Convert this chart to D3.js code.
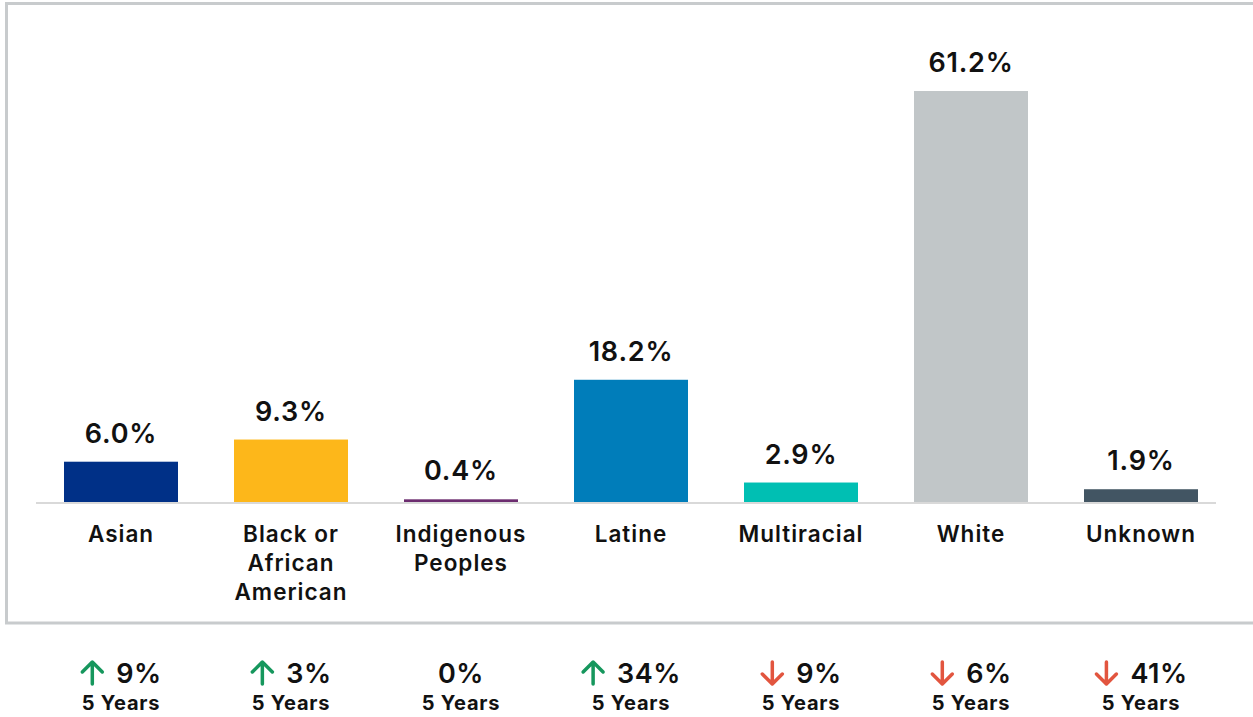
<!DOCTYPE html>
<html>
<head>
  <meta charset="utf-8">
  <script src="https://d3js.org/d3.v7.min.js"></script>
  <style>
    body { margin: 0; background: #fff; }
    svg text { font-family: Inter, "Open Sans", sans-serif; fill: #111; }
    .value { font-size: 27px; font-weight: 600; letter-spacing: 0.8px; }
    .cat { font-size: 22.5px; font-weight: 600; letter-spacing: 1px; }
    .chg { font-size: 27px; font-weight: 600; letter-spacing: 0.5px; }
    .yrs { font-size: 20px; font-weight: 700; letter-spacing: 0.8px; }
  </style>
</head>
<body>
<div id="chart"></div>
<script>
// data
var categories = ["Asian", "Black or African American", "Indigenous Peoples", "Latine", "Multiracial", "White", "Unknown"];
var catLines = [["Asian"], ["Black or", "African", "American"], ["Indigenous", "Peoples"], ["Latine"], ["Multiracial"], ["White"], ["Unknown"]];
var shares = [6.0, 9.3, 0.4, 18.2, 2.9, 61.2, 1.9];
var changes = [9, 3, 0, 34, -9, -6, -41];
var colors = ["#003087", "#fdb71a", "#6c2c6f", "#007dba", "#00bfb3", "#c1c6c8", "#425563"];

var W = 1253, H = 717;
var svg = d3.select('#chart').append('svg')
  .attr('width', W).attr('height', H);

// frame
svg.append('rect')
  .attr('x', 6.5).attr('y', 3.5)
  .attr('width', W + 20).attr('height', 619.5)
  .attr('fill', 'none')
  .attr('stroke', '#c8cbcd')
  .attr('stroke-width', 3);

var x = d3.scaleBand()
  .domain(categories)
  .range([36, 1226])
  .paddingInner(0.3294)
  .paddingOuter(0.1647);

var y = d3.scaleLinear()
  .domain([0, 61.2])
  .range([502, 91]);

// bars
svg.selectAll('.bar')
  .data(shares)
  .enter().append('rect')
  .attr('class', 'bar')
  .attr('x', function(d, i){ return x(categories[i]); })
  .attr('y', function(d){ return y(d); })
  .attr('width', x.bandwidth())
  .attr('height', function(d){ return y(0) - y(d); })
  .attr('fill', function(d, i){ return colors[i]; });

// baseline
svg.append('line')
  .attr('x1', 36).attr('x2', 1216)
  .attr('y1', y(0) + 1).attr('y2', y(0) + 1)
  .attr('stroke', '#d9d9d9')
  .attr('stroke-width', 2);

// value labels
svg.selectAll('.value')
  .data(shares)
  .enter().append('text')
  .attr('class', 'value')
  .attr('x', function(d, i){ return x(categories[i]) + x.bandwidth() / 2; })
  .attr('y', function(d){ return y(d) - 19; })
  .attr('text-anchor', 'middle')
  .text(function(d){ return d.toFixed(1) + '%'; });

// category labels
var cat = svg.selectAll('.cat')
  .data(catLines)
  .enter().append('text')
  .attr('class', 'cat')
  .attr('text-anchor', 'middle')
  .attr('x', function(d, i){ return x(categories[i]) + x.bandwidth() / 2; })
  .attr('y', 542);

cat.selectAll('tspan')
  .data(function(d, i){ return d.map(function(s){ return {s: s, i: i}; }); })
  .enter().append('tspan')
  .attr('x', function(d){ return x(categories[d.i]) + x.bandwidth() / 2; })
  .attr('dy', function(d, j){ return j === 0 ? 0 : 29; })
  .text(function(d){ return d.s; });

// five-year change row
changes.forEach(function(c, i){
  var cx = x(categories[i]) + x.bandwidth() / 2;
  var g = svg.append('g');
  var t = g.append('text')
    .attr('class', 'chg')
    .attr('y', 683)
    .text(Math.abs(c) + '%');
  var tw = t.node().getComputedTextLength();
  if (c === 0) {
    t.attr('x', cx - tw / 2);
  } else {
    var aw = 24, gap = 12;
    var left = cx - (aw + gap + tw) / 2;
    t.attr('x', left + aw + gap);
    var up = c > 0;
    var col = up ? '#16975d' : '#e2553f';
    var ax = left + aw / 2, top = 662, bot = 684;
    var tip = up ? top : bot, tail = up ? bot : top;
    var dir = up ? 1 : -1;
    g.append('path')
      .attr('d', 'M' + ax + ',' + tail + 'L' + ax + ',' + (tip + dir * 2) +
        'M' + (ax - 10) + ',' + (tip + dir * 10) + 'L' + ax + ',' + tip + 'L' + (ax + 10) + ',' + (tip + dir * 10))
      .attr('fill', 'none')
      .attr('stroke', col)
      .attr('stroke-width', 3.5)
      .attr('stroke-linecap', 'round')
      .attr('stroke-linejoin', 'round');
  }
  g.append('text')
    .attr('class', 'yrs')
    .attr('x', cx)
    .attr('y', 710)
    .attr('text-anchor', 'middle')
    .text('5 Years');
});
</script>
</body>
</html>
